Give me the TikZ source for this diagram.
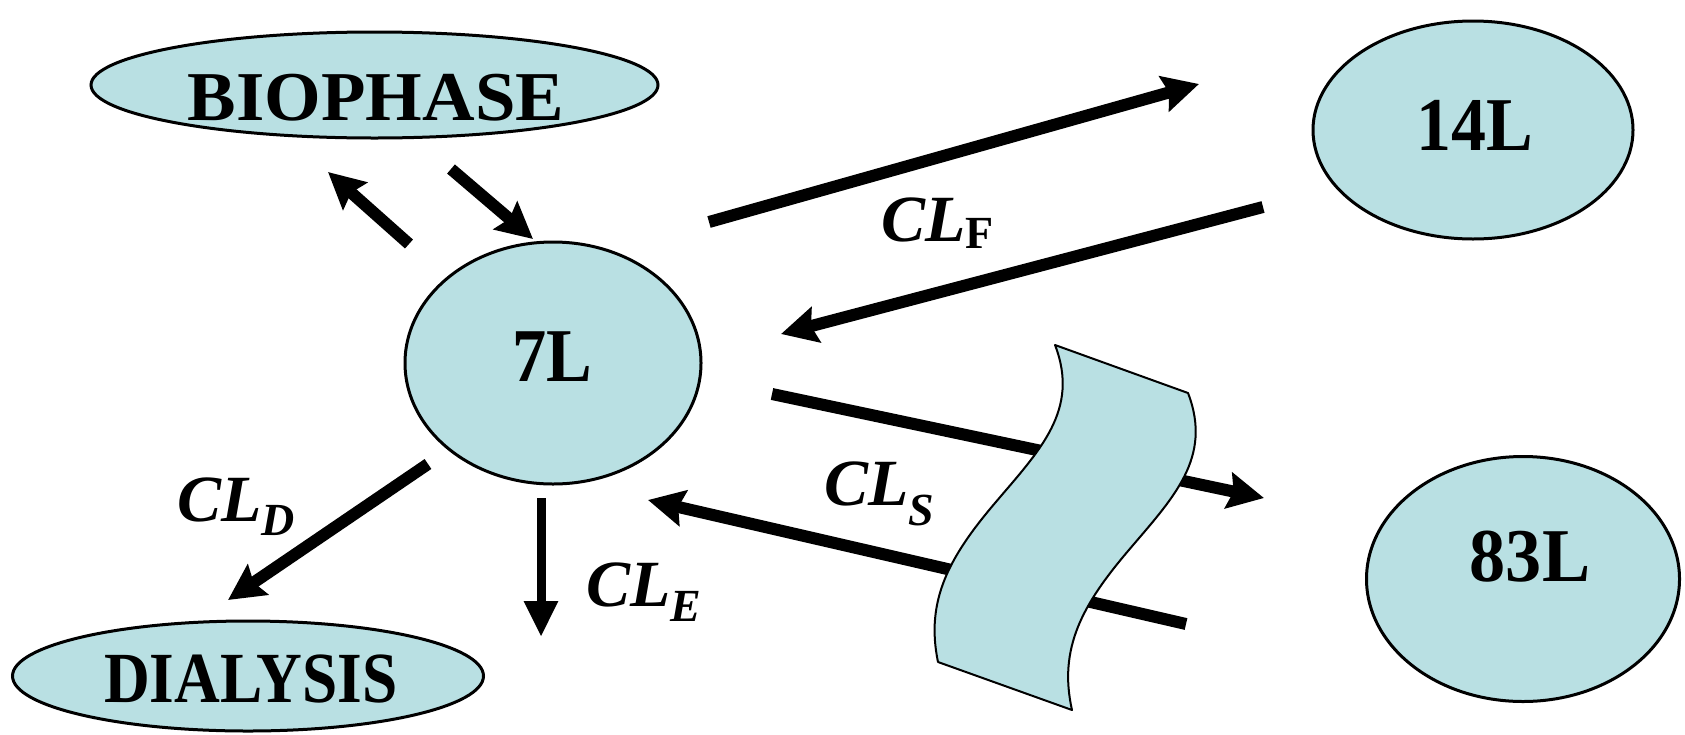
\documentclass[tikz,border=0pt]{standalone}
\usepackage{fontspec}
\setmainfont{Liberation Serif}
\usetikzlibrary{arrows.meta,shapes.geometric}
\definecolor{poolblue}{RGB}{185,224,227}
\newcommand{\subfont}{\fontsize{46}{46}\selectfont}
\begin{document}
\begin{tikzpicture}[x=1pt,y=-1pt,
  pool/.style={ellipse, draw, line width=3pt, fill=poolblue, inner sep=0pt},
  flow/.style={line width=12pt, -{Stealth[length=36pt,width=36pt,inset=5pt]}},
  thinflow/.style={line width=9pt, -{Triangle[length=36pt,width=32pt]}},
  compname/.style={font=\fontsize{76}{76}\selectfont\bfseries, inner sep=0pt, anchor=base},
  rate/.style={font=\fontsize{66}{66}\selectfont\bfseries\itshape, inner sep=0pt, anchor=base west}]
\useasboundingbox (0,0) rectangle (1685,734);

% compartments
\node[pool, minimum width=567pt, minimum height=106pt] (bio) at (374.5,85) {};
\node[pool, minimum width=320pt, minimum height=218pt] (c14) at (1473,130) {};
\node[pool, minimum width=296pt, minimum height=242pt] (c7) at (553,363) {};
\node[pool, minimum width=313pt, minimum height=245pt] (c83) at (1523,579) {};
\node[pool, minimum width=471pt, minimum height=110pt] (dia) at (248,676) {};

\node[compname, font=\fontsize{70}{70}\selectfont\bfseries] (tbio) at (376,120) {\scalebox{1.04}[1]{BIOPHASE}};
\node[compname] (t14) at (1475,150) {\scalebox{0.92}[1]{14L}};
\node[compname] (t7) at (552,381) {\scalebox{0.9}[1]{7L}};
\node[compname] (t83) at (1530,581) {\scalebox{0.95}[1]{83L}};
\node[compname, font=\fontsize{72}{72}\selectfont\bfseries] (tdia) at (251,702) {\scalebox{0.88}[1]{DIALYSIS}};

% arrow end points
\coordinate (bu0) at (409,244);  \coordinate (bu1) at (328,172);
\coordinate (bd0) at (451,169);  \coordinate (bd1) at (533,239);
\coordinate (ft0) at (709,222);  \coordinate (ft1) at (1199,84);
\coordinate (fb0) at (1263,207); \coordinate (fb1) at (781,334);
\coordinate (st0) at (772,394);  \coordinate (st1) at (1264,498);
\coordinate (sb0) at (1186,624); \coordinate (sb1) at (648,500);
\coordinate (d0) at (428,464);   \coordinate (d1) at (228,600);
\coordinate (e0) at (541,498);   \coordinate (e1) at (541,637);

\draw[flow] (bu0) -- (bu1);
\draw[flow] (bd0) -- (bd1);
\draw[flow] (ft0) -- (ft1);
\draw[flow] (fb0) -- (fb1);
\draw[flow] (st0) -- (st1);
\draw[flow] (sb0) -- (sb1);
\draw[flow] (d0) -- (d1);
\draw[thinflow] (e0) -- (e1);

% membrane sheet crossing the slow exchange arrows
\draw[line width=2pt, fill=poolblue, line join=round]
  (1055,345) .. controls (1080,410) and (1040,450) .. (995,503)
  .. controls (950,556) and (925,600) .. (938,662)
  -- (1072,710) .. controls (1058,648) and (1083,604) .. (1128,551)
  .. controls (1173,498) and (1213,458) .. (1188,393) -- cycle;

% clearance labels
\node[rate] (lf) at (881,241) {CL\raisebox{-7pt}{\subfont\upshape F}};
\node[rate] (ld) at (177,521) {CL\raisebox{-14pt}{\subfont D}};
\node[rate] (le) at (586,606) {CL\raisebox{-15pt}{\subfont E}};
\node[rate] (ls) at (824,505) {CL\raisebox{-20pt}{\subfont S}};
\end{tikzpicture}
\end{document}
